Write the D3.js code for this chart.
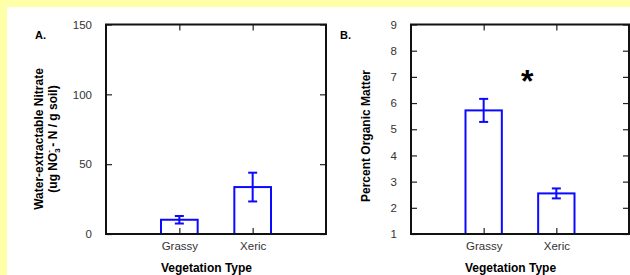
<!DOCTYPE html>
<html>
<head>
<meta charset="utf-8">
<script src="https://cdn.jsdelivr.net/npm/d3@7"></script>
<style>
  body { margin: 0; padding: 0; background: #fff; }
  svg { display: block; }
  text { font-family: "Liberation Sans", Arial, sans-serif; }
</style>
</head>
<body>
<div id="canvas"></div>
<script>
// data
const categories = ["Grassy", "Xeric"];
const nitrateMean = [10.2, 33.6];
const nitrateErr = [2.7, 10.3];
const organicMean = [5.72, 2.55];
const organicErr = [0.44, 0.19];
const nitrateTicks = [0, 50, 100, 150];
const organicTicks = [1, 2, 3, 4, 5, 6, 7, 8, 9];

const width = 630;
const height = 275;
const blue = "#0a0aff";

const svg = d3.select("#canvas").append("svg")
    .attr("width", width)
    .attr("height", height);

// yellow frame
svg.append("rect").attr("width", width).attr("height", height).attr("fill", "#ffffa8");
svg.append("rect").attr("x", 7).attr("y", 7).attr("width", width - 7).attr("height", height - 7).attr("fill", "#fff");

function drawPanel(opt) {
    const x = d3.scaleLinear().domain([0, 3]).range([opt.left, opt.right]);
    const y = d3.scaleLinear().domain(opt.domain).range([234, 24.5]);
    const rows = categories.map((c, i) => ({name: c, pos: i + 1, mean: opt.mean[i], err: opt.err[i]}));

    const g = svg.append("g");

    // axes, ticks pointing inward
    g.append("g")
        .attr("transform", `translate(${opt.left},0)`)
        .call(d3.axisLeft(y).tickValues(opt.ticks).tickSize(-6).tickPadding(14).tickFormat(d3.format("d")))
        .call(a => a.select(".domain").remove());
    g.append("g")
        .attr("transform", `translate(${opt.right},0)`)
        .call(d3.axisRight(y).tickValues(opt.ticks).tickSize(-6).tickFormat(""))
        .call(a => a.select(".domain").remove());
    g.append("g")
        .attr("transform", "translate(0,234)")
        .call(d3.axisBottom(x).tickValues([1, 2]).tickSize(-6).tickPadding(8).tickFormat(d => categories[d - 1]))
        .call(a => a.select(".domain").remove());
    g.append("g")
        .attr("transform", "translate(0,24.5)")
        .call(d3.axisTop(x).tickValues([1, 2]).tickSize(-6).tickFormat(""))
        .call(a => a.select(".domain").remove());

    g.selectAll(".tick line").attr("stroke", "#222").attr("stroke-width", 1.2);
    g.selectAll(".tick text").attr("font-size", 11.5).attr("fill", "#333");

    // bars
    g.selectAll(".bar").data(rows).enter().append("rect")
        .attr("class", "bar")
        .attr("x", d => x(d.pos - 0.25))
        .attr("y", d => y(d.mean))
        .attr("width", x(0.5) - x(0))
        .attr("height", d => y(opt.domain[0]) - y(d.mean))
        .attr("fill", "none")
        .attr("stroke", blue)
        .attr("stroke-width", 2);

    // error bars
    const eb = g.selectAll(".err").data(rows).enter().append("g").attr("class", "err")
        .attr("stroke", blue).attr("stroke-width", 2);
    eb.append("line")
        .attr("x1", d => x(d.pos)).attr("x2", d => x(d.pos))
        .attr("y1", d => y(d.mean - d.err)).attr("y2", d => y(d.mean + d.err));
    eb.append("line")
        .attr("x1", d => x(d.pos) - 4.5).attr("x2", d => x(d.pos) + 4.5)
        .attr("y1", d => y(d.mean + d.err)).attr("y2", d => y(d.mean + d.err));
    eb.append("line")
        .attr("x1", d => x(d.pos) - 4.5).attr("x2", d => x(d.pos) + 4.5)
        .attr("y1", d => y(d.mean - d.err)).attr("y2", d => y(d.mean - d.err));

    // frame
    g.append("rect")
        .attr("x", opt.left).attr("y", 24.5)
        .attr("width", opt.right - opt.left).attr("height", 234 - 24.5)
        .attr("fill", "none").attr("stroke", "#111").attr("stroke-width", 2);

    // panel letter
    g.append("text")
        .attr("x", opt.left - 71).attr("y", 39)
        .attr("font-size", 11).attr("font-weight", "bold")
        .text(opt.letter);

    // x title
    g.append("text")
        .attr("x", x(1.37)).attr("y", 272)
        .attr("text-anchor", "middle")
        .attr("font-size", 12).attr("font-weight", "bold")
        .text("Vegetation Type");

    return {g, x, y};
}

// panel A
const pa = drawPanel({left: 106, right: 326, domain: [0, 150], ticks: nitrateTicks,
    mean: nitrateMean, err: nitrateErr, letter: "A."});

pa.g.append("text")
    .attr("transform", "translate(43,139) rotate(-90)")
    .attr("text-anchor", "middle")
    .attr("font-size", 12).attr("font-weight", "bold")
    .text("Water-extractable Nitrate");

const t2 = pa.g.append("text")
    .attr("transform", "translate(57,139) rotate(-90)")
    .attr("text-anchor", "middle")
    .attr("font-size", 12).attr("font-weight", "bold");
t2.append("tspan").text("(ug NO");
t2.append("tspan").attr("font-size", 8).attr("dy", 3).text("3");
t2.append("tspan").attr("font-size", 8).attr("dx", -4.5).attr("dy", -9).text("-");
t2.append("tspan").attr("dy", 6).text(" - N / g soil)");

// panel B
const pb = drawPanel({left: 411, right: 629, domain: [1, 9], ticks: organicTicks,
    mean: organicMean, err: organicErr, letter: "B."});

pb.g.append("text")
    .attr("transform", "translate(370,136) rotate(-90)")
    .attr("text-anchor", "middle")
    .attr("font-size", 12).attr("font-weight", "bold")
    .text("Percent Organic Matter");

pb.g.append("text")
    .attr("x", pb.x(1.6)).attr("y", pb.y(7) + 15)
    .attr("text-anchor", "middle")
    .attr("font-size", 32).attr("font-weight", "bold")
    .text("*");
</script>
</body>
</html>
